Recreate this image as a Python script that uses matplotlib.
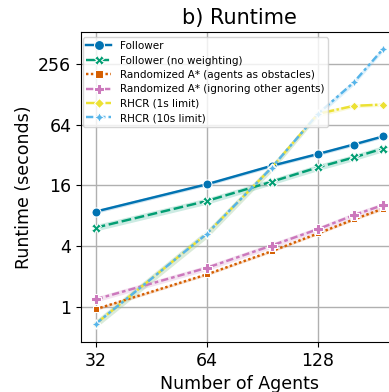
import matplotlib
matplotlib.use('Agg')
import matplotlib.pyplot as plt
import numpy as np

# number of agents
agents = [32, 64, 96, 128, 160, 192]

# mean runtime (seconds) and half-width of the confidence band
follower = [8.8, 16.4, 25.0, 32.7, 40.6, 48.8]
follower_ci = [0.35, 0.6, 0.9, 1.2, 1.5, 1.8]
follower_nw = [6.1, 11.2, 17.4, 24.1, 30.2, 37.0]
follower_nw_ci = [0.45, 0.8, 1.2, 1.7, 2.1, 2.6]
astar_obst = [0.95, 2.1, 3.57, 5.34, 7.35, 9.4]
astar_obst_ci = [0.03, 0.06, 0.1, 0.15, 0.2, 0.3]
astar_ign = [1.19, 2.44, 4.06, 5.89, 8.1, 10.2]
astar_ign_ci = [0.07, 0.15, 0.25, 0.35, 0.5, 0.6]
rhcr_1s = [0.68, 5.3, 24.0, 81.6, 98.0, 101.0]
rhcr_1s_ci = [0.06, 0.5, 2.0, 5.0, 4.0, 4.0]
rhcr_10s = [0.68, 5.3, 24.0, 81.6, 167.0, 357.0]
rhcr_10s_ci = [0.06, 0.5, 2.0, 5.0, 10.0, 20.0]

labels = ['Follower', 'Follower (no weighting)', 'Randomized A* (agents as obstacles)',
          'Randomized A* (ignoring other agents)', 'RHCR (1s limit)', 'RHCR (10s limit)']
series = [(follower, follower_ci), (follower_nw, follower_nw_ci), (astar_obst, astar_obst_ci),
          (astar_ign, astar_ign_ci), (rhcr_1s, rhcr_1s_ci), (rhcr_10s, rhcr_10s_ci)]
colors = ['#0173b2', '#029e73', '#d55e00', '#cc78bc', '#ece133', '#56b4e9']
markers = ['o', 'X', (4, 0, 45), 'P', (4, 0, 0), (4, 1, 0)]
dashes = [(None, None), (0, (4, 1.5)), (0, (1, 1)), (0, (3, 1.25, 1.5, 1.25)),
          (0, (5, 1, 1, 1)), (0, (3, 1.25, 1.25, 1.25, 1.25, 1.25))]

fig = plt.figure(figsize=(3.89, 3.92), dpi=100)
ax = fig.add_axes([0.2082, 0.1276, 0.815, 0.791])

for (vals, ci), lab, c, m, d in zip(series, labels, colors, markers, dashes):
    vals = np.array(vals); ci = np.array(ci)
    ax.fill_between(agents, vals - ci, vals + ci, color=c, alpha=0.2, lw=0)
    ls = '-' if d[0] is None else d
    ax.plot(agents, vals, color=c, marker=m, linestyle=ls, lw=1.75, ms=6.5,
            mec='w', mew=0.75, label=lab)

ax.set_xscale('log', base=2)
ax.set_yscale('log', base=2)
ax.set_xlim(29.2, 211)
ax.set_ylim(0.45, 529)
ax.set_xticks([32, 64, 128])
ax.set_xticklabels(['32', '64', '128'])
ax.set_yticks([1, 4, 16, 64, 256])
ax.set_yticklabels(['1', '4', '16', '64', '256'])
ax.minorticks_off()
ax.tick_params(labelsize=12.5)
ax.grid(True, color='#b0b0b0', lw=1)
ax.set_axisbelow(True)

ax.set_xlabel('Number of Agents', fontsize=12.5)
ax.set_ylabel('Runtime (seconds)', fontsize=12.5)
ax.set_title('b) Runtime', fontsize=15)
ax.legend(loc='upper left', bbox_to_anchor=(0.005, 0.982), borderaxespad=0,
          fontsize=7.5, labelspacing=0.42, borderpad=0.35, handlelength=2.4,
          markerscale=1.1)

plt.savefig('out.png', dpi=100)
